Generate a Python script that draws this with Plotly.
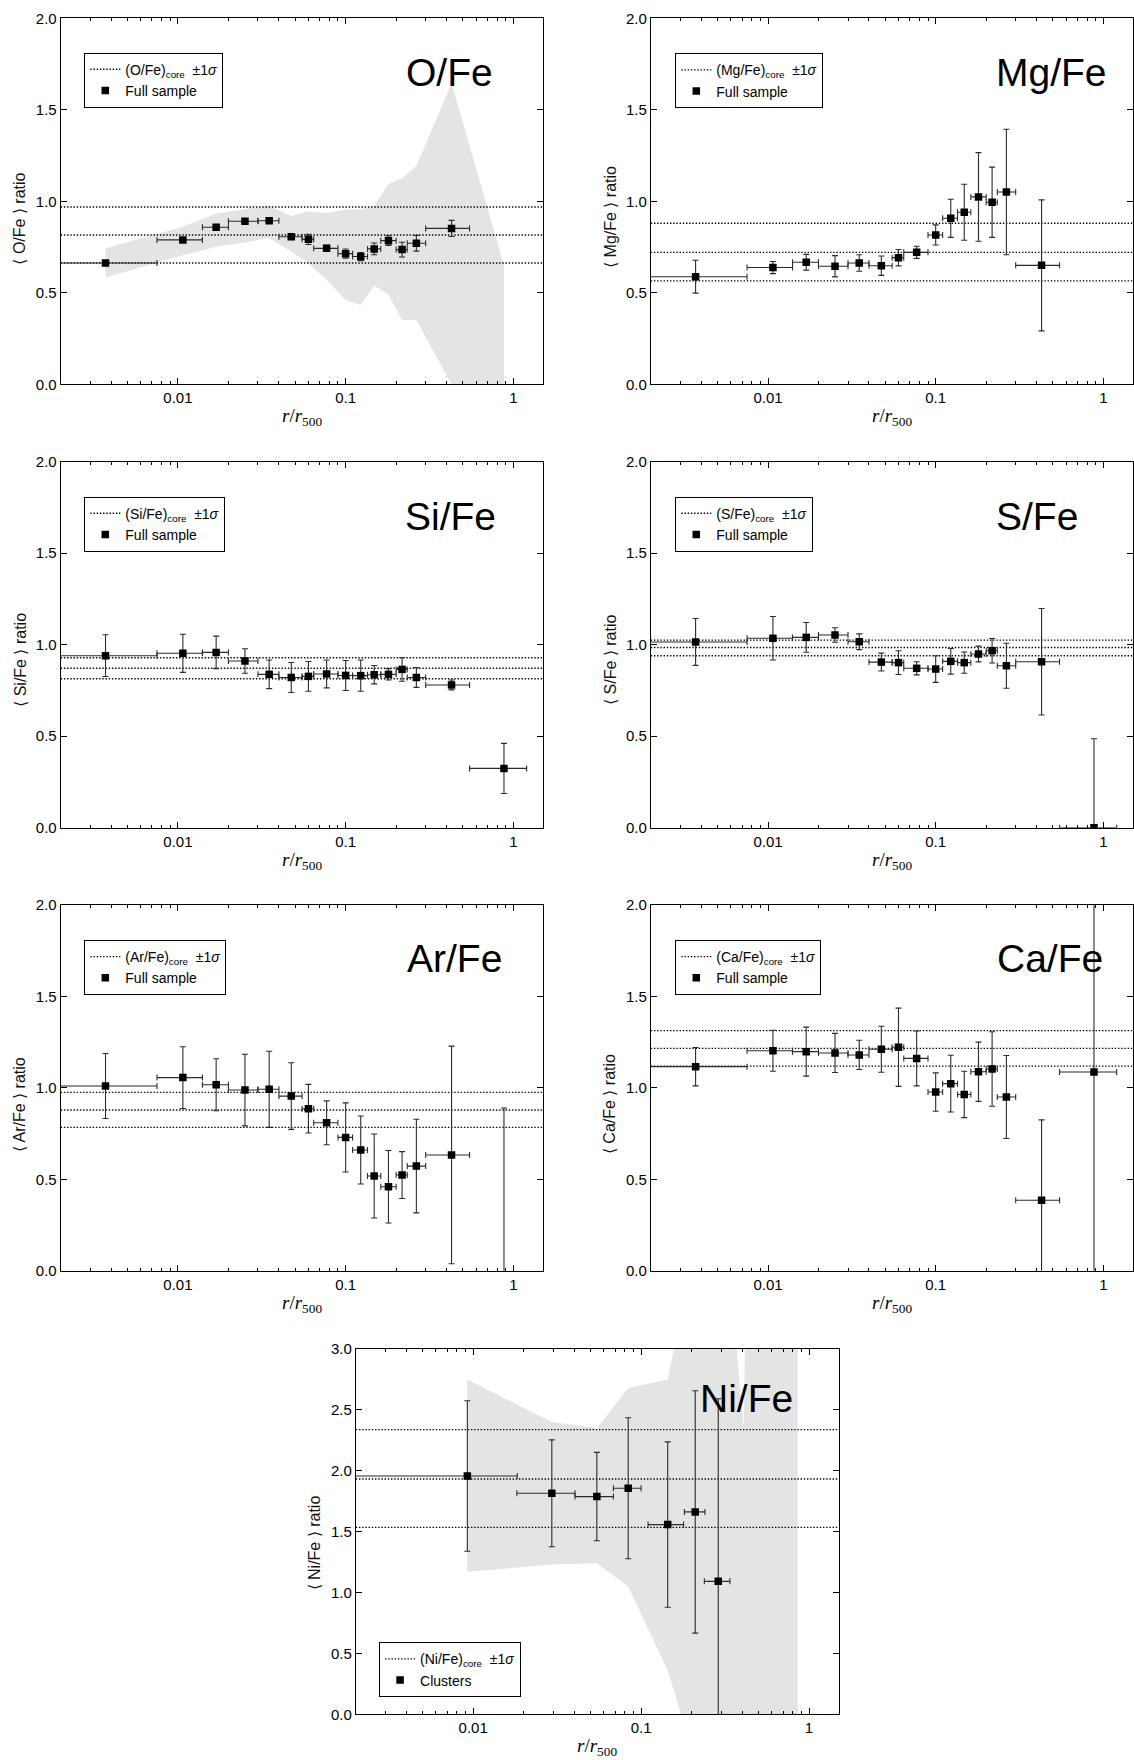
import math
import plotly.graph_objects as go

# ---------------- data ----------------
# radial bins of the full sample (r/r500): centres and bin edges
R = [0.0037, 0.0107, 0.0169, 0.0251, 0.0350, 0.0474, 0.0600, 0.0770,
     0.100, 0.123, 0.148, 0.180, 0.217, 0.264, 0.428, 0.879]
R_LO = [0.001, 0.0075, 0.014, 0.020, 0.030, 0.040, 0.055, 0.0645,
        0.090, 0.110, 0.135, 0.162, 0.200, 0.233, 0.300, 0.548]
R_HI = [0.0075, 0.014, 0.020, 0.030, 0.040, 0.055, 0.0645, 0.090,
        0.110, 0.135, 0.162, 0.200, 0.233, 0.300, 0.548, 1.20]

O_VAL = [0.663, 0.789, 0.858, 0.891, 0.894, 0.806, 0.792, 0.743, 0.714, 0.698,
         0.740, 0.785, 0.736, 0.771, 0.852]
O_ERR = [0.005, 0.008, 0.015, 0.012, 0.012, 0.012, 0.028, 0.016, 0.025, 0.022,
         0.032, 0.026, 0.040, 0.043, 0.044]
O_CORE = [0.816, 0.663, 0.969]
O_BAND_HI = [0.743, 0.861, 0.934, 0.956, 0.976, 0.920, 0.945, 0.935, 0.955, 0.955,
             0.975, 1.095, 1.126, 1.193, 1.645, 0.650]
O_BAND_LO = [0.583, 0.705, 0.752, 0.775, 0.800, 0.725, 0.661, 0.570, 0.461, 0.433,
             0.540, 0.490, 0.351, 0.351, 0.000, -0.500]

MG_VAL = [0.588, 0.638, 0.667, 0.645, 0.663, 0.648, 0.692, 0.721, 0.816, 0.907,
          0.940, 1.024, 0.995, 1.051, 0.650]
MG_ERR = [0.090, 0.033, 0.043, 0.058, 0.045, 0.053, 0.045, 0.033, 0.055, 0.104,
          0.153, 0.242, 0.192, 0.343, 0.358]
MG_CORE = [0.721, 0.565, 0.880]

SI_VAL = [0.940, 0.953, 0.958, 0.911, 0.838, 0.821, 0.827, 0.840, 0.832, 0.831,
          0.836, 0.838, 0.865, 0.821, 0.780, 0.324]
SI_ERR = [0.114, 0.104, 0.089, 0.067, 0.078, 0.082, 0.081, 0.076, 0.082, 0.085,
          0.050, 0.031, 0.065, 0.054, 0.027, 0.137]
SI_CORE = [0.871, 0.814, 0.929]

S_VAL = [1.015, 1.035, 1.040, 1.053, 1.016, 0.905, 0.902, 0.871, 0.867, 0.909,
         0.902, 0.949, 0.967, 0.885, 0.907, 0.000]
S_ERR = [0.128, 0.119, 0.081, 0.040, 0.043, 0.049, 0.065, 0.036, 0.073, 0.070,
         0.058, 0.043, 0.067, 0.123, 0.291, 0.486]
S_CORE = [0.985, 0.940, 1.025]

AR_VAL = [1.010, 1.056, 1.017, 0.988, 0.992, 0.955, 0.886, 0.809, 0.729, 0.660,
          0.518, 0.459, 0.523, 0.572, 0.633, -0.150]
AR_ERR = [0.178, 0.169, 0.142, 0.196, 0.208, 0.182, 0.133, 0.120, 0.189, 0.186,
          0.230, 0.198, 0.128, 0.256, 0.595, 1.040]
AR_CORE = [0.879, 0.784, 0.975]

CA_VAL = [1.116, 1.203, 1.198, 1.191, 1.180, 1.211, 1.222, 1.161, 0.977, 1.023,
          0.964, 1.088, 1.103, 0.950, 0.385, 1.087]
CA_ERR = [0.105, 0.112, 0.134, 0.107, 0.080, 0.126, 0.214, 0.150, 0.105, 0.155,
          0.127, 0.162, 0.204, 0.227, 0.440, 1.350]
CA_CORE = [1.216, 1.119, 1.313]

# Ni/Fe: clusters only, own binning
R_NI = [0.00923, 0.0294, 0.0545, 0.0838, 0.144, 0.210, 0.288]
R_NI_LO = [0.001, 0.0182, 0.0404, 0.0684, 0.110, 0.181, 0.238]
R_NI_HI = [0.0183, 0.0404, 0.0684, 0.100, 0.179, 0.240, 0.338]
NI_VAL = [1.957, 1.815, 1.788, 1.856, 1.558, 1.662, 1.092]
NI_ERR = [0.618, 0.439, 0.363, 0.579, 0.679, 0.995, 1.500]
NI_CORE = [1.932, 1.535, 2.338]
R_NI_BAND = [0.00923, 0.0294, 0.0545, 0.0838, 0.144, 0.210, 0.288, 0.409, 0.857]
NI_BAND_HI = [2.75, 2.40, 2.35, 2.68, 2.75, 3.89, 4.63, 2.35, 38.0]
NI_BAND_LO = [1.17, 1.23, 1.24, 1.05, 0.36, -0.38, -0.60, -0.60, -0.60]

X_RANGE = [0.002, 1.5]
X_TICKS = [0.01, 0.1, 1]
X_TICKTEXT = ["0.01", "0.1", "1"]
X_MINOR = [m * 10.0 ** e for e in (-3, -2, -1) for m in range(2, 10)]

# ---------------- panels ----------------
panels = [
    dict(el="O/Fe", r=R, lo=R_LO, hi=R_HI, val=O_VAL, err=O_ERR, core=O_CORE,
         band=(R, O_BAND_LO, O_BAND_HI), ymax=2.0, label="Full sample"),
    dict(el="Mg/Fe", r=R, lo=R_LO, hi=R_HI, val=MG_VAL, err=MG_ERR, core=MG_CORE,
         band=None, ymax=2.0, label="Full sample"),
    dict(el="Si/Fe", r=R, lo=R_LO, hi=R_HI, val=SI_VAL, err=SI_ERR, core=SI_CORE,
         band=None, ymax=2.0, label="Full sample"),
    dict(el="S/Fe", r=R, lo=R_LO, hi=R_HI, val=S_VAL, err=S_ERR, core=S_CORE,
         band=None, ymax=2.0, label="Full sample"),
    dict(el="Ar/Fe", r=R, lo=R_LO, hi=R_HI, val=AR_VAL, err=AR_ERR, core=AR_CORE,
         band=None, ymax=2.0, label="Full sample"),
    dict(el="Ca/Fe", r=R, lo=R_LO, hi=R_HI, val=CA_VAL, err=CA_ERR, core=CA_CORE,
         band=None, ymax=2.0, label="Full sample"),
    dict(el="Ni/Fe", r=R_NI, lo=R_NI_LO, hi=R_NI_HI, val=NI_VAL, err=NI_ERR, core=NI_CORE,
         band=(R_NI_BAND, NI_BAND_LO, NI_BAND_HI), ymax=3.0, label="Clusters"),
]

# layout (pixel geometry of the page, 1134 x 1760)
W, H = 1134, 1760
LEFT_X = (60.7, 542.9)
RIGHT_X = (650.8, 1132.9)
MID_X = (355.8, 838.6)
ROWS_Y = [(18.3, 384.3), (461.7, 827.7), (905.0, 1270.7), (1349.0, 1714.3)]
geom = [
    (LEFT_X, ROWS_Y[0]), (RIGHT_X, ROWS_Y[0]),
    (LEFT_X, ROWS_Y[1]), (RIGHT_X, ROWS_Y[1]),
    (LEFT_X, ROWS_Y[2]), (RIGHT_X, ROWS_Y[2]),
    (MID_X, ROWS_Y[3]),
]
# legend top-left corners (px) and element-label right edge / centre (px)
legend_pos = [(84.3, 52.7), (675.3, 53.3), (84.3, 496.7), (675.3, 496.7),
              (84.3, 940.0), (675.3, 940.0), (379.1, 1642.3)]
label_pos = [(495.0, 72.5), (1109.0, 72.5), (498.0, 516.0), (1080.0, 516.0),
             (503.6, 959.0), (1105.4, 959.0), (795.0, 1398.3)]
ytitle_frac = [0.452, 0.457, 0.458, 0.458, 0.455, 0.455, 0.47]

SANS = "Liberation Sans, Arial, Helvetica, sans-serif"
SERIF = "Liberation Serif, DejaVu Serif, serif"
BAND_COLOR = "#e4e4e4"
ERR_COLOR = "#2b2b2b"

fig = go.Figure()
layout = dict(width=W, height=H,
              margin=dict(l=0, r=0, t=0, b=0, pad=0, autoexpand=False),
              paper_bgcolor="white", plot_bgcolor="white", showlegend=True,
              font=dict(family=SANS, size=15, color="black"))
annotations = []

for i, p in enumerate(panels):
    k = "" if i == 0 else str(i + 1)
    xa, ya = "x" + k, "y" + k
    leg = "legend" + k
    (x0, x1), (y0, y1) = geom[i]

    if p["band"] is not None:
        bx, blo, bhi = p["band"]
        fig.add_trace(go.Scatter(
            x=list(bx) + list(bx)[::-1], y=list(bhi) + list(blo)[::-1],
            fill="toself", fillcolor=BAND_COLOR, mode="lines",
            line=dict(width=0, color=BAND_COLOR), hoverinfo="skip",
            showlegend=False, xaxis=xa, yaxis=ya, legend=leg))

    for j, c in enumerate(p["core"]):
        fig.add_trace(go.Scatter(
            x=X_RANGE, y=[c, c], mode="lines",
            line=dict(color="black", width=1.4, dash="1.4px,1.8px"),
            name="(%s)<sub>core</sub>  ±1<i>σ</i>" % p["el"],
            showlegend=(j == 0), hoverinfo="skip",
            xaxis=xa, yaxis=ya, legend=leg))

    n = len(p["val"])
    r = p["r"][:n]
    fig.add_trace(go.Scatter(
        x=r, y=p["val"], mode="markers",
        marker=dict(symbol="square", size=7.5, color="black"),
        error_y=dict(type="data", array=p["err"], color=ERR_COLOR, thickness=1.1, width=3),
        error_x=dict(type="data",
                     array=[h - v for h, v in zip(p["hi"][:n], r)],
                     arrayminus=[v - l for l, v in zip(p["lo"][:n], r)],
                     color=ERR_COLOR, thickness=1.1, width=3),
        name=p["label"], xaxis=xa, yaxis=ya, legend=leg))

    axis_common = dict(showline=True, linecolor="black", linewidth=1, mirror="ticks",
                       ticks="inside", ticklen=6, tickwidth=1, tickcolor="black",
                       showgrid=False, zeroline=False, automargin=False,
                       tickfont=dict(family=SANS, size=15, color="black"))
    layout["xaxis" + k] = dict(
        type="log", range=[math.log10(X_RANGE[0]), math.log10(X_RANGE[1])],
        domain=[x0 / W, x1 / W], anchor=ya,
        tickmode="array", tickvals=X_TICKS, ticktext=X_TICKTEXT,
        minor=dict(tickmode="array", tickvals=X_MINOR, ticks="inside", ticklen=3,
                   tickcolor="black", tickwidth=1, showgrid=False),
        **axis_common)
    layout["yaxis" + k] = dict(
        range=[0, p["ymax"]], domain=[1 - y1 / H, 1 - y0 / H], anchor=xa,
        tickmode="linear", tick0=0, dtick=0.5, tickformat=".1f",
        **axis_common)

    # axis titles
    annotations.append(dict(
        text="<i>r</i>/<i>r</i><sub>500</sub>", xref=xa + " domain", yref=ya + " domain",
        x=0.5, y=0, yshift=-33, xanchor="center", yanchor="middle", showarrow=False,
        font=dict(family=SERIF, size=19, color="black")))
    annotations.append(dict(
        text="⟨ %s ⟩ ratio" % p["el"], xref=xa + " domain", yref=ya + " domain",
        x=0, xshift=-41, y=ytitle_frac[i], xanchor="center", yanchor="middle",
        textangle=-90, showarrow=False,
        font=dict(family=SANS, size=16, color="#111111")))

    lx, ly = legend_pos[i]
    layout[leg] = dict(x=lx / W, y=1 - ly / H, xanchor="left", yanchor="top",
                       xref="paper", yref="paper",
                       bordercolor="black", borderwidth=1, bgcolor="white",
                       font=dict(family=SANS, size=14, color="black"),
                       tracegroupgap=0, itemwidth=30)

    tx, ty = label_pos[i]
    annotations.append(dict(
        text=p["el"], xref=xa + " domain", yref=ya + " domain",
        x=(tx - x0) / (x1 - x0), y=(y1 - ty) / (y1 - y0),
        xanchor="right", yanchor="middle", showarrow=False,
        font=dict(family=SANS, size=39, color="black")))

layout["annotations"] = annotations
fig.update_layout(**layout)
fig.write_html(
    "out.html",
    post_script="document.body.style.margin='0';document.body.style.padding='0';")
